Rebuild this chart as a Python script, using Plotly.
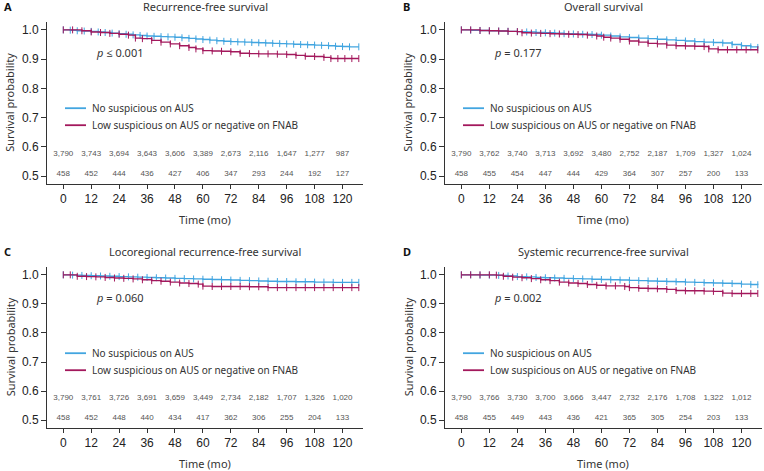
import plotly.graph_objects as go

W, H = 764, 471

# ---------------- data ----------------
risk_times = [0, 12, 24, 36, 48, 60, 72, 84, 96, 108, 120]
x_ticks = [0, 12, 24, 36, 48, 60, 72, 84, 96, 108, 120]
y_ticks = [0.5, 0.6, 0.7, 0.8, 0.9, 1.0]

# Panel A: Recurrence-free survival
a_blue_t = [0, 3, 6, 9, 12, 15, 18, 21, 24, 27, 30, 33, 36, 39, 42, 45, 48, 51, 54, 57, 60, 63, 66, 69, 72, 75, 78, 81, 84, 87, 90, 93, 96, 99, 102, 105, 108, 111, 114, 117, 120, 123, 127]
a_blue_s = [1.000, 0.999, 0.997, 0.996, 0.995, 0.993, 0.991, 0.989, 0.987, 0.985, 0.983, 0.981, 0.979, 0.978, 0.977, 0.976, 0.975, 0.973, 0.971, 0.969, 0.967, 0.965, 0.963, 0.961, 0.960, 0.959, 0.958, 0.957, 0.956, 0.955, 0.954, 0.953, 0.952, 0.951, 0.950, 0.949, 0.948, 0.947, 0.946, 0.944, 0.943, 0.942, 0.942]
a_red_t = [0, 4, 8, 12, 16, 20, 24, 28, 31, 34, 38, 42, 46, 50, 54, 57, 60, 64, 68, 72, 76, 80, 84, 88, 92, 96, 100, 104, 108, 112, 115, 118, 121, 124, 127]
a_red_s = [1.000, 1.000, 0.997, 0.993, 0.991, 0.988, 0.985, 0.982, 0.972, 0.970, 0.964, 0.958, 0.952, 0.946, 0.940, 0.935, 0.929, 0.928, 0.927, 0.925, 0.920, 0.919, 0.918, 0.918, 0.917, 0.916, 0.913, 0.910, 0.909, 0.906, 0.902, 0.902, 0.902, 0.902, 0.902]
a_risk_blue = ["3,790", "3,743", "3,694", "3,643", "3,606", "3,389", "2,673", "2,116", "1,647", "1,277", "987"]
a_risk_red = ["458", "452", "444", "436", "427", "406", "347", "293", "244", "192", "127"]

# Panel B: Overall survival
b_blue_t = [0, 4, 8, 12, 16, 20, 24, 28, 32, 36, 40, 44, 48, 52, 56, 60, 64, 68, 72, 76, 80, 84, 88, 92, 96, 100, 104, 108, 112, 116, 120, 124, 127]
b_blue_s = [1.000, 0.999, 0.998, 0.997, 0.996, 0.995, 0.994, 0.993, 0.991, 0.990, 0.989, 0.987, 0.986, 0.985, 0.984, 0.982, 0.979, 0.976, 0.974, 0.972, 0.970, 0.968, 0.966, 0.964, 0.962, 0.960, 0.958, 0.957, 0.955, 0.950, 0.946, 0.942, 0.940]
b_red_t = [0, 4, 8, 12, 16, 20, 24, 26, 30, 34, 38, 42, 46, 50, 54, 58, 61, 64, 68, 72, 76, 80, 84, 88, 92, 96, 100, 104, 106, 110, 114, 118, 122, 127]
b_red_s = [1.000, 1.000, 0.998, 0.997, 0.996, 0.995, 0.994, 0.990, 0.989, 0.988, 0.987, 0.986, 0.985, 0.984, 0.982, 0.979, 0.975, 0.972, 0.968, 0.962, 0.958, 0.954, 0.952, 0.948, 0.946, 0.945, 0.944, 0.943, 0.935, 0.932, 0.932, 0.932, 0.932, 0.932]
b_risk_blue = ["3,790", "3,762", "3,740", "3,713", "3,692", "3,480", "2,752", "2,187", "1,709", "1,327", "1,024"]
b_risk_red = ["458", "455", "454", "447", "444", "429", "364", "307", "257", "200", "133"]

# Panel C: Locoregional recurrence-free survival
c_blue_t = [0, 4, 8, 12, 16, 20, 24, 28, 32, 36, 40, 44, 48, 52, 56, 60, 64, 68, 72, 76, 80, 84, 88, 92, 96, 100, 104, 108, 112, 116, 120, 124, 127]
c_blue_s = [1.000, 0.999, 0.998, 0.997, 0.996, 0.995, 0.994, 0.993, 0.992, 0.991, 0.990, 0.989, 0.988, 0.987, 0.986, 0.985, 0.984, 0.983, 0.982, 0.981, 0.980, 0.979, 0.978, 0.977, 0.977, 0.976, 0.976, 0.975, 0.975, 0.974, 0.974, 0.974, 0.974]
c_red_t = [0, 3, 6, 10, 14, 18, 22, 26, 30, 34, 38, 42, 46, 50, 54, 58, 60, 64, 68, 72, 76, 80, 84, 88, 92, 96, 100, 104, 108, 112, 116, 120, 124, 127]
c_red_s = [1.000, 1.000, 0.995, 0.994, 0.993, 0.991, 0.989, 0.988, 0.986, 0.983, 0.980, 0.978, 0.975, 0.972, 0.970, 0.968, 0.961, 0.960, 0.960, 0.960, 0.960, 0.959, 0.959, 0.956, 0.956, 0.956, 0.956, 0.956, 0.956, 0.956, 0.956, 0.956, 0.956, 0.956]
c_risk_blue = ["3,790", "3,761", "3,726", "3,691", "3,659", "3,449", "2,734", "2,182", "1,707", "1,326", "1,020"]
c_risk_red = ["458", "452", "448", "440", "434", "417", "362", "306", "255", "204", "133"]

# Panel D: Systemic recurrence-free survival
d_blue_t = [0, 4, 8, 12, 16, 20, 24, 28, 32, 36, 40, 44, 48, 52, 56, 60, 64, 68, 72, 76, 80, 84, 88, 92, 96, 100, 104, 108, 112, 116, 120, 124, 127]
d_blue_s = [1.000, 1.000, 0.999, 0.999, 0.998, 0.996, 0.994, 0.993, 0.991, 0.990, 0.989, 0.988, 0.987, 0.986, 0.985, 0.984, 0.983, 0.982, 0.981, 0.980, 0.979, 0.978, 0.977, 0.976, 0.975, 0.974, 0.973, 0.972, 0.971, 0.970, 0.968, 0.967, 0.966]
d_red_t = [0, 4, 8, 12, 15, 18, 22, 26, 30, 34, 38, 42, 46, 50, 54, 58, 62, 66, 70, 72, 76, 80, 84, 88, 92, 96, 100, 104, 108, 112, 116, 120, 124, 127]
d_red_s = [1.000, 1.000, 1.000, 1.000, 0.999, 0.995, 0.992, 0.990, 0.987, 0.983, 0.980, 0.975, 0.972, 0.970, 0.967, 0.964, 0.962, 0.962, 0.960, 0.956, 0.954, 0.953, 0.952, 0.950, 0.946, 0.945, 0.945, 0.944, 0.943, 0.937, 0.936, 0.936, 0.936, 0.936]
d_risk_blue = ["3,790", "3,766", "3,730", "3,700", "3,666", "3,447", "2,732", "2,176", "1,708", "1,322", "1,012"]
d_risk_red = ["458", "455", "449", "443", "436", "421", "365", "305", "254", "203", "133"]

titles = ["Recurrence-free survival", "Overall survival",
          "Locoregional recurrence-free survival", "Systemic recurrence-free survival"]
letters = ["A", "B", "C", "D"]
p_texts = ["<i>p</i> ≤ 0.001", "<i>p</i> = 0.177", "<i>p</i> = 0.060", "<i>p</i> = 0.002"]
legend_names = ["No suspicious on AUS", "Low suspicious on AUS or negative on FNAB"]

BLUE = "#42a5e0"
RED = "#a3185c"
TXT = "#333333"
TICKFONT = "Liberation Sans, Arial, sans-serif"
LABFONT = "Noto Sans, Open Sans, sans-serif"

panels = [
    (a_blue_t, a_blue_s, a_red_t, a_red_s, a_risk_blue, a_risk_red),
    (b_blue_t, b_blue_s, b_red_t, b_red_s, b_risk_blue, b_risk_red),
    (c_blue_t, c_blue_s, c_red_t, c_red_s, c_risk_blue, c_risk_red),
    (d_blue_t, d_blue_s, d_red_t, d_red_s, d_risk_blue, d_risk_red),
]

# plot-area pixel boxes (left, right, top, bottom)
boxes = [(47, 363, 21.7, 184), (445, 762, 21.7, 184),
         (47, 363, 266.7, 428), (445, 762, 266.7, 428)]
XR = [-7.0, 128.8]
YR = [0.473, 1.028]

fig = go.Figure()
annotations = []
shapes = []
layout_axes = {}

for i, (bt, bs, rt, rs, rb, rr) in enumerate(panels):
    n = "" if i == 0 else str(i + 1)
    xa, ya = "x" + n, "y" + n
    L, R, T, B = boxes[i]
    dx = [L / W, R / W]
    dy = [1 - B / H, 1 - T / H]
    layout_axes["xaxis" + n] = dict(
        domain=dx, range=XR, anchor=ya, tickvals=x_ticks, showgrid=False, zeroline=False,
        showline=True, linecolor="#333", linewidth=1, ticks="outside", ticklen=4,
        tickcolor="#333", tickfont=dict(family=TICKFONT, size=12, color="#222"))
    layout_axes["yaxis" + n] = dict(
        domain=dy, range=YR, anchor=xa, tickvals=y_ticks, ticktext=[f"{v:.1f}" for v in y_ticks],
        showgrid=False, zeroline=False, showline=True, linecolor="#333", linewidth=1,
        ticks="outside", ticklen=5, tickcolor="#333",
        tickfont=dict(family=TICKFONT, size=12, color="#222"))

    # curves
    for t, s, col in ((bt, bs, BLUE), (rt, rs, RED)):
        fig.add_trace(go.Scatter(
            x=t, y=s, xaxis=xa, yaxis=ya, mode="lines+markers",
            line=dict(color=col, width=1.4, shape="hv"),
            marker=dict(symbol="line-ns", size=5, line=dict(color=col, width=1)),
            showlegend=False, hoverinfo="skip"))
    # number at risk
    for labels, yy in ((rb, 0.575), (rr, 0.507)):
        fig.add_trace(go.Scatter(
            x=risk_times, y=[yy] * len(risk_times), xaxis=xa, yaxis=ya, mode="text",
            text=labels, textfont=dict(family=TICKFONT, size=8, color="#555"),
            showlegend=False, hoverinfo="skip"))

    cx = (L + R) / 2 / W
    # title
    annotations.append(dict(text=titles[i], x=cx, y=1 - (T - 15.5) / H, xref="paper", yref="paper",
                            showarrow=False, xanchor="center", yanchor="middle",
                            font=dict(family=LABFONT, size=11, color=TXT)))
    # panel letter
    lx = 2 if i % 2 == 0 else 401
    annotations.append(dict(text="<b>%s</b>" % letters[i], x=lx / W, y=1 - (T - 15.5) / H,
                            xref="paper", yref="paper", showarrow=False, xanchor="left",
                            yanchor="middle", font=dict(family=LABFONT, size=11, color="#111")))
    # y-axis title
    annotations.append(dict(text="Survival probability", x=(L - 37) / W, y=1 - ((T + B) / 2) / H,
                            xref="paper", yref="paper", showarrow=False, textangle=-90,
                            xanchor="center", yanchor="middle",
                            font=dict(family=LABFONT, size=11, color=TXT)))
    # x-axis title
    annotations.append(dict(text="Time (mo)", x=(L + 158) / W, y=1 - (B + 35) / H,
                            xref="paper", yref="paper", showarrow=False,
                            xanchor="center", yanchor="middle",
                            font=dict(family=LABFONT, size=11, color=TXT)))
    # p value
    annotations.append(dict(text=p_texts[i], x=13.0, y=0.921, xref=xa, yref=ya, showarrow=False,
                            xanchor="left", yanchor="middle",
                            font=dict(family=LABFONT, size=11, color=TXT)))
    # legend
    for k, (nm, col) in enumerate(zip(legend_names, (BLUE, RED))):
        ypx = T + 86.5 + 17 * k
        shapes.append(dict(type="line", xref="paper", yref="paper",
                           x0=(L + 18) / W, x1=(L + 39) / W, y0=1 - ypx / H, y1=1 - ypx / H,
                           line=dict(color=col, width=1.8)))
        annotations.append(dict(text=nm, x=(L + 43) / W, y=1 - ypx / H, xref="paper", yref="paper",
                                showarrow=False, xanchor="left", yanchor="middle",
                                font=dict(family=LABFONT, size=10, color=TXT)))

fig.update_layout(
    width=W, height=H, margin=dict(l=0, r=0, t=0, b=0),
    paper_bgcolor="white", plot_bgcolor="white",
    annotations=annotations, shapes=shapes, showlegend=False, **layout_axes)

fig.write_html("out.html", config={"displayModeBar": False},
               post_script="document.body.style.margin='0';")
